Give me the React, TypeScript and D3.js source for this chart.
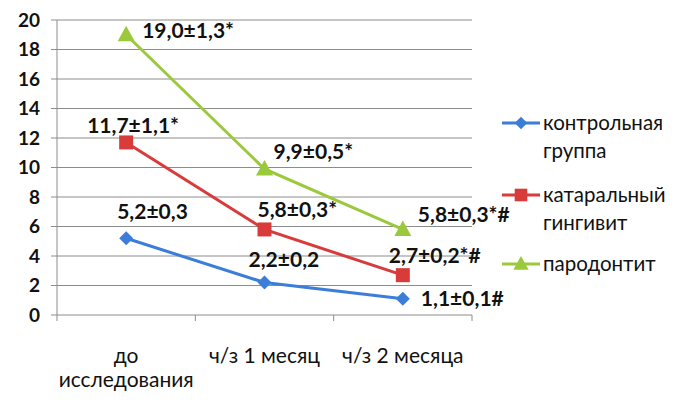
import * as d3 from 'd3';

const categories = ['до исследования', 'ч/з 1 месяц', 'ч/з 2 месяца'];
const categoryLines = [['до', 'исследования'], ['ч/з 1 месяц'], ['ч/з 2 месяца']];
const yTicks = [0, 2, 4, 6, 8, 10, 12, 14, 16, 18, 20];

const controlValues = [5.2, 2.2, 1.1];
const catarrhalValues = [11.7, 5.8, 2.7];
const periodontitisValues = [19.0, 9.9, 5.8];

const controlLabels = ['5,2±0,3', '2,2±0,2', '1,1±0,1#'];
const catarrhalLabels = ['11,7±1,1*', '5,8±0,3*', '2,7±0,2*#'];
const periodontitisLabels = ['19,0±1,3*', '9,9±0,5*', '5,8±0,3*#'];

type Series = {
  name: string[];
  values: number[];
  labels: string[];
  color: string;
  marker: 'diamond' | 'square' | 'triangle';
  offsets: [number, number][]; // label start offset from the point, px
};

const series: Series[] = [
  { name: ['контрольная', 'группа'], values: controlValues, labels: controlLabels, color: '#3b7dd8', marker: 'diamond', offsets: [[-9, -27], [-16, -23], [18, 0]] },
  { name: ['катаральный', 'гингивит'], values: catarrhalValues, labels: catarrhalLabels, color: '#d93b3b', marker: 'square', offsets: [[-39, -17], [-7, -20], [-14, -20]] },
  { name: ['пародонтит'], values: periodontitisValues, labels: periodontitisLabels, color: '#9bc93c', marker: 'triangle', offsets: [[16, -4], [9, -17], [15, -15]] },
];

function markerPath(type: Series['marker']) {
  if (type === 'diamond') return 'M0,-7L7,0L0,7L-7,0Z';
  if (type === 'square') return 'M-7,-7H7V7H-7Z';
  return 'M0,-9L8.5,6.5H-8.5Z';
}

export default function App() {
  const width = 685;
  const height = 410;
  const margin = { top: 20, right: 213, bottom: 95, left: 57 };

  const x = d3
    .scaleBand()
    .domain(categories)
    .range([margin.left, width - margin.right])
    .paddingInner(0)
    .paddingOuter(0);

  const y = d3
    .scaleLinear()
    .domain([0, 20])
    .range([height - margin.bottom, margin.top]);

  const cx = (c: string) => (x(c) ?? 0) + x.bandwidth() / 2;
  const font = 'Lato, "Open Sans", sans-serif';

  const line = d3
    .line<number>()
    .x((_, i) => cx(categories[i]))
    .y((d) => y(d));

  const legendY = [123, 195, 264];

  return (
    <svg width={width} height={height} style={{ position: 'absolute', left: 0, top: 0 }}>
      <rect width={width} height={height} fill="#fff" />
      {/* grid */}
      {yTicks.map((t) => (
        <g key={t}>
          <line x1={margin.left - 6} x2={width - margin.right} y1={y(t)} y2={y(t)} stroke="#8c8c8c" strokeWidth={1} />
          <text x={40} y={y(t)} dy="0.35em" textAnchor="end" fontFamily={font} fontWeight="bold" fontSize={19} fill="#111">
            {t}
          </text>
        </g>
      ))}
      <line x1={margin.left} x2={margin.left} y1={y(20)} y2={y(0)} stroke="#8c8c8c" />
      {/* x ticks */}
      {[...categories.map((c) => x(c) ?? 0), width - margin.right].map((px, i) => (
        <line key={i} x1={px} x2={px} y1={y(0)} y2={y(0) + 6} stroke="#8c8c8c" />
      ))}
      {categoryLines.map((lines, i) => (
        <text key={i} x={cx(categories[i])} y={356} textAnchor="middle" fontFamily={font} fontSize={21} fill="#111">
          {lines.map((l, j) => (
            <tspan key={j} x={cx(categories[i])} dy={j === 0 ? '0.35em' : 24}>
              {l}
            </tspan>
          ))}
        </text>
      ))}
      {/* series */}
      {series.map((s) => (
        <g key={s.name.join(' ')}>
          <path d={line(s.values) ?? ''} fill="none" stroke={s.color} strokeWidth={3} />
          {s.values.map((v, i) => (
            <path key={i} d={markerPath(s.marker)} transform={`translate(${cx(categories[i])},${y(v)})`} fill={s.color} />
          ))}
          {s.values.map((v, i) => (
            <text
              key={'l' + i}
              x={cx(categories[i]) + s.offsets[i][0]}
              y={y(v) + s.offsets[i][1]}
              dy="0.35em"
              fontFamily={font}
              fontWeight="bold"
              fontSize={21}
              fill="#111"
            >
              {s.labels[i]}
            </text>
          ))}
        </g>
      ))}
      {/* legend */}
      {series.map((s, k) => (
        <g key={'lg' + k} transform={`translate(502,${legendY[k]})`}>
          <line x1={0} x2={38} y1={0} y2={0} stroke={s.color} strokeWidth={3} />
          <path d={markerPath(s.marker)} transform="translate(19,0) scale(0.9)" fill={s.color} />
          <text x={41} y={0} fontFamily={font} fontSize={20.5} fill="#111">
            {s.name.map((n, j) => (
              <tspan key={j} x={41} dy={j === 0 ? '0.35em' : 28}>
                {n}
              </tspan>
            ))}
          </text>
        </g>
      ))}
    </svg>
  );
}
